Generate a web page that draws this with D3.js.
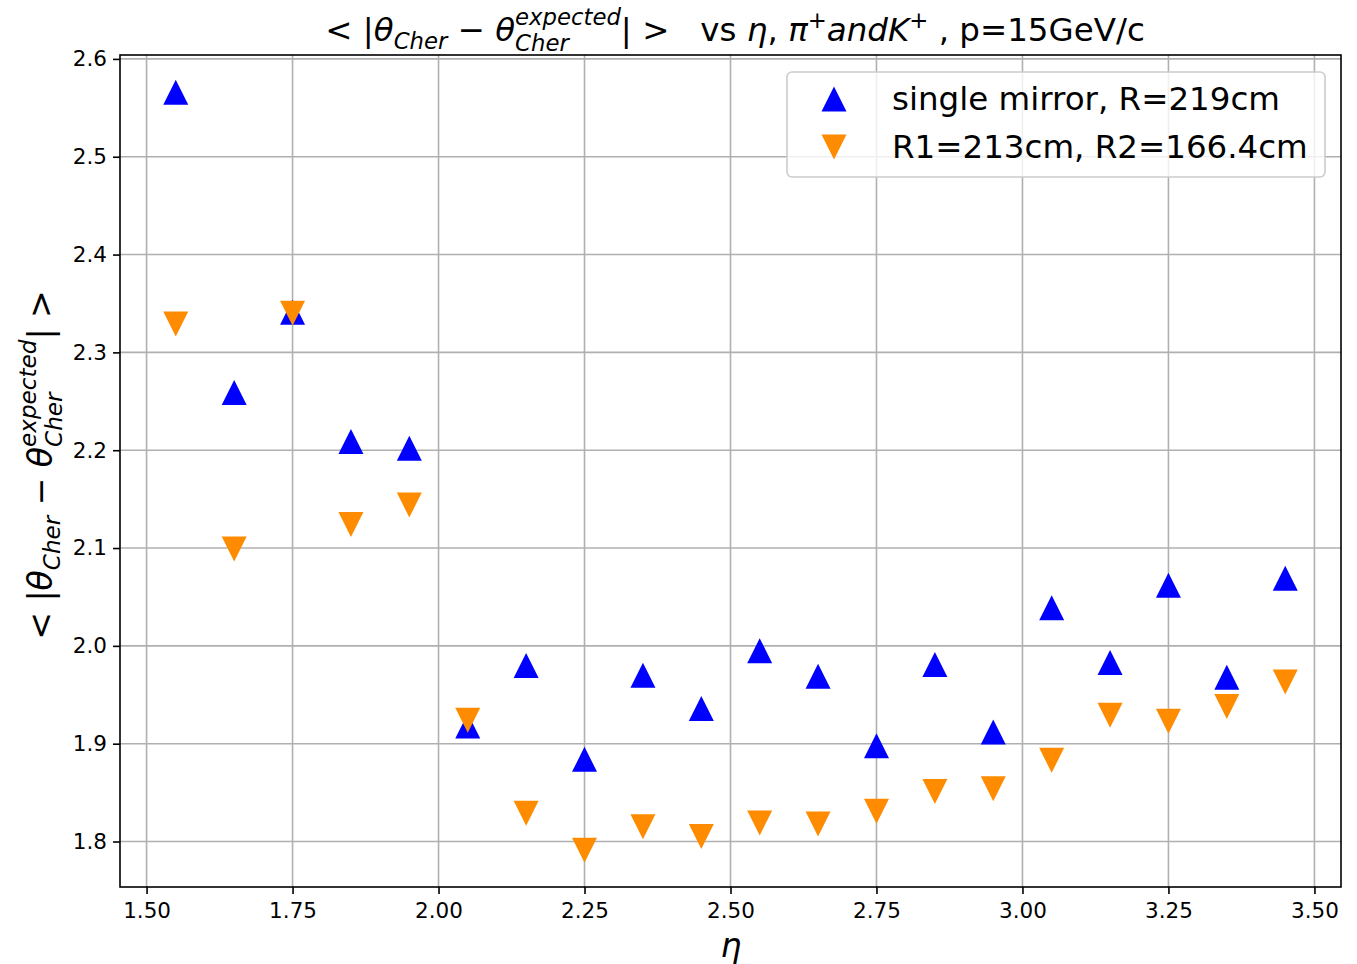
<!DOCTYPE html>
<html>
<head>
<meta charset="UTF-8">
<script src="https://cdnjs.cloudflare.com/ajax/libs/d3/7.8.5/d3.min.js"></script>
<style>
body { margin: 0; background: white; }
svg { font-family: 'DejaVu Sans', sans-serif; }
.grid line { stroke: #b0b0b0; stroke-width: 1.6; }
</style>
</head>
<body>
<script>
// eta bins
var eta = [1.55, 1.65, 1.75, 1.85, 1.95, 2.05, 2.15, 2.25, 2.35, 2.45,
           2.55, 2.65, 2.75, 2.85, 2.95, 3.05, 3.15, 3.25, 3.35, 3.45];
// single mirror, R=219cm
var singleMirror = [2.566, 2.259, 2.341, 2.209, 2.202, 1.918, 1.980, 1.884, 1.970, 1.936,
                    1.995, 1.969, 1.898, 1.981, 1.912, 2.039, 1.983, 2.062, 1.968, 2.069];
// R1=213cm, R2=166.4cm
var twoMirror = [2.329, 2.099, 2.340, 2.124, 2.144, 1.924, 1.829, 1.791, 1.815, 1.805,
                 1.819, 1.818, 1.831, 1.851, 1.854, 1.883, 1.929, 1.923, 1.938, 1.963];
var xTicks = [1.50, 1.75, 2.00, 2.25, 2.50, 2.75, 3.00, 3.25, 3.50];
var yTicks = [1.8, 1.9, 2.0, 2.1, 2.2, 2.3, 2.4, 2.5, 2.6];
var legendLabels = ["single mirror, R=219cm", "R1=213cm, R2=166.4cm"];

var width = 1357, height = 964;
var mLeft = 120, mRight = 1341, mTop = 55, mBottom = 887;

var svg = d3.select("body").append("svg")
    .attr("width", width)
    .attr("height", height);

var x = d3.scaleLinear().domain([1.4545, 3.5455]).range([mLeft, mRight]);
var y = d3.scaleLinear().domain([1.7535, 2.604]).range([mBottom, mTop]);

// grid
var grid = svg.append("g").attr("class", "grid");
grid.selectAll(".gx").data(xTicks).enter().append("line")
    .attr("x1", function(d) { return x(d); })
    .attr("x2", function(d) { return x(d); })
    .attr("y1", mTop).attr("y2", mBottom);
grid.selectAll(".gy").data(yTicks).enter().append("line")
    .attr("y1", function(d) { return y(d); })
    .attr("y2", function(d) { return y(d); })
    .attr("x1", mLeft).attr("x2", mRight);

// axes
var xAxis = svg.append("g")
    .attr("transform", "translate(0," + mBottom + ")")
    .call(d3.axisBottom(x).tickValues(xTicks).tickFormat(d3.format(".2f")).tickSize(7).tickPadding(9));
var yAxis = svg.append("g")
    .attr("transform", "translate(" + mLeft + ",0)")
    .call(d3.axisLeft(y).tickValues(yTicks).tickFormat(d3.format(".1f")).tickSize(7).tickPadding(6));
[xAxis, yAxis].forEach(function(a) {
    a.select(".domain").remove();
    a.selectAll("line").attr("stroke", "black").attr("stroke-width", 1.6);
    a.selectAll("text")
        .attr("font-family", "'DejaVu Sans', sans-serif")
        .attr("font-size", 21.5)
        .attr("fill", "black");
});

// frame
svg.append("rect")
    .attr("x", mLeft).attr("y", mTop)
    .attr("width", mRight - mLeft).attr("height", mBottom - mTop)
    .attr("fill", "none").attr("stroke", "black").attr("stroke-width", 1.6);

// markers
var tri = 12.5;
function up(d) { return "M0," + (-tri) + "L" + tri + "," + tri + "L" + (-tri) + "," + tri + "Z"; }
function down(d) { return "M0," + tri + "L" + tri + "," + (-tri) + "L" + (-tri) + "," + (-tri) + "Z"; }

svg.append("g").selectAll("path")
    .data(eta.map(function(e, i) { return [e, singleMirror[i]]; }))
    .enter().append("path")
    .attr("d", up)
    .attr("transform", function(d) { return "translate(" + x(d[0]) + "," + y(d[1]) + ")"; })
    .attr("fill", "#0000ff");

svg.append("g").selectAll("path")
    .data(eta.map(function(e, i) { return [e, twoMirror[i]]; }))
    .enter().append("path")
    .attr("d", down)
    .attr("transform", function(d) { return "translate(" + x(d[0]) + "," + y(d[1]) + ")"; })
    .attr("fill", "#ff8c00");

// legend
var lg = svg.append("g");
lg.append("rect")
    .attr("x", 787).attr("y", 72).attr("width", 538).attr("height", 105)
    .attr("rx", 5)
    .attr("fill", "white").attr("fill-opacity", 0.8)
    .attr("stroke", "#cccccc").attr("stroke-width", 1.6);
lg.append("path").attr("d", up).attr("transform", "translate(834,99)").attr("fill", "#0000ff");
lg.append("path").attr("d", down).attr("transform", "translate(834,147)").attr("fill", "#ff8c00");
lg.selectAll("text").data(legendLabels).enter().append("text")
    .attr("x", 892)
    .attr("y", function(d, i) { return 110 + i * 48; })
    .attr("font-size", 32.5)
    .text(function(d) { return d; });

// little mathtext-like layout: pieces placed one after another,
// a piece with sup+sub stacks both at the same x
function mathText(g, parts, fs) {
    var cx = 0;
    parts.forEach(function(p) {
        if (p.sup !== undefined) {
            var a = g.append("text").attr("x", cx).attr("y", -fs * 0.5)
                .attr("font-size", fs * 0.7).attr("font-style", "italic").text(p.sup);
            var b = g.append("text").attr("x", cx).attr("y", fs * 0.3)
                .attr("font-size", fs * 0.7).attr("font-style", "italic").text(p.sub);
            cx += Math.max(a.node().getComputedTextLength(), b.node().getComputedTextLength());
        } else {
            var s = p.small ? 0.7 : 1;
            var t = g.append("text").attr("x", cx)
                .attr("y", p.small ? (p.up ? -fs * 0.4 : fs * 0.25) : 0)
                .attr("font-size", fs * s)
                .attr("font-style", p.it ? "italic" : "normal")
                .attr("xml:space", "preserve")
                .text(p.t);
            cx += t.node().getComputedTextLength();
        }
    });
    return cx;
}

// title
var tg = svg.append("g");
var tw = mathText(tg, [
    {t: "< |"}, {t: "θ", it: true}, {t: "Cher", it: true, small: true},
    {t: " − "}, {t: "θ", it: true}, {sup: "expected", sub: "Cher"},
    {t: "| >   vs "}, {t: "η", it: true}, {t: ", "},
    {t: "π", it: true}, {t: "+", small: true, up: true}, {t: "andK", it: true},
    {t: "+", small: true, up: true}, {t: " , p=15GeV/c"}
], 32.5);
tg.attr("transform", "translate(" + (735 - tw / 2) + ",41)");

// x label
svg.append("text")
    .attr("x", 731).attr("y", 957)
    .attr("text-anchor", "middle")
    .attr("font-size", 33)
    .attr("font-style", "italic")
    .text("η");

// y label
var yg = svg.append("g");
var yw = mathText(yg, [
    {t: "< |"}, {t: "θ", it: true}, {t: "Cher", it: true, small: true},
    {t: " − "}, {t: "θ", it: true}, {sup: "expected", sub: "Cher"},
    {t: "| >"}
], 33);
yg.attr("transform", "translate(52," + (465 + yw / 2) + ") rotate(-90)");
</script>
</body>
</html>
